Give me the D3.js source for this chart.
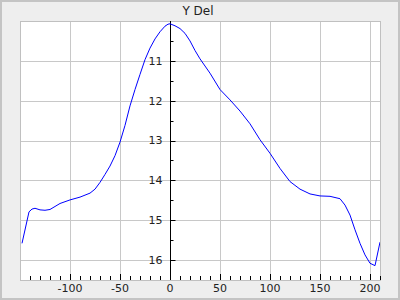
<!DOCTYPE html>
<html>
<head>
<meta charset="utf-8">
<script src="https://cdn.jsdelivr.net/npm/d3@7/dist/d3.min.js"></script>
<style>
  html, body { margin: 0; padding: 0; background: #eeeeee; }
  svg { display: block; }
</style>
</head>
<body>
<div id="chart"></div>
<script>
// values
const xs = [-148, -141, -138, -135, -130, -125, -120, -110, -100, -90, -80, -75, -70, -65, -60, -55, -50, -45, -40, -35, -30, -25, -20, -15, -10, -5, -2, 0, 5, 10, 15, 20, 25, 30, 35, 40, 50, 60, 70, 80, 90, 100, 110, 120, 130, 140, 150, 160, 170, 175, 180, 185, 190, 195, 200, 205, 210]
const ys = [15.58, 14.79, 14.72, 14.70, 14.74, 14.75, 14.73, 14.58, 14.49, 14.42, 14.32, 14.22, 14.05, 13.85, 13.64, 13.38, 13.04, 12.62, 12.13, 11.72, 11.34, 10.97, 10.68, 10.45, 10.27, 10.13, 10.08, 10.07, 10.12, 10.19, 10.31, 10.50, 10.74, 10.95, 11.13, 11.31, 11.72, 11.98, 12.26, 12.58, 12.98, 13.32, 13.70, 14.03, 14.22, 14.34, 14.39, 14.40, 14.46, 14.62, 14.87, 15.24, 15.58, 15.87, 16.08, 16.14, 15.55]
const xTicks = [-100, -50, 0, 50, 100, 150, 200]
const yTicks = [11, 12, 13, 14, 15, 16]
const title = 'Y Del'

const width = 400, height = 300
const plot = { left: 20, top: 21, right: 380, bottom: 280 }

const svg = d3.select('#chart')
   .append('svg')
   .attr('width', width)
   .attr('height', height)
   .style('font-family', '"DejaVu Sans", sans-serif')

svg.append('rect')
   .attr('x', 1).attr('y', 1)
   .attr('width', width - 2).attr('height', height - 2)
   .attr('fill', '#eeeeee')
   .attr('stroke', '#c4c4c4')
   .attr('stroke-width', 2)

const x = d3.scaleLinear().domain([-150, 210]).range([plot.left, plot.right])
const y = d3.scaleLinear().domain([10, 16.5]).range([plot.top, plot.bottom])

svg.append('rect')
   .attr('x', plot.left).attr('y', plot.top)
   .attr('width', plot.right - plot.left).attr('height', plot.bottom - plot.top)
   .attr('fill', '#ffffff')

// grid
svg.append('g')
   .selectAll('line')
   .data(xTicks)
   .enter()
   .append('line')
   .attr('x1', d => Math.round(x(d)) + 0.5).attr('x2', d => Math.round(x(d)) + 0.5)
   .attr('y1', plot.top).attr('y2', plot.bottom)
   .attr('stroke', '#c8c8c8')
svg.append('g')
   .selectAll('line')
   .data(yTicks)
   .enter()
   .append('line')
   .attr('y1', d => Math.round(y(d)) + 0.5).attr('y2', d => Math.round(y(d)) + 0.5)
   .attr('x1', plot.left).attr('x2', plot.right)
   .attr('stroke', '#c8c8c8')

svg.append('rect')
   .attr('x', plot.left + 0.5).attr('y', plot.top + 0.5)
   .attr('width', plot.right - plot.left).attr('height', plot.bottom - plot.top)
   .attr('fill', 'none')
   .attr('stroke', '#c0c0c0')

// x axis ticks inside the bottom edge
const xMinor = d3.range(-140, 211, 10)
svg.append('g')
   .selectAll('line')
   .data(xMinor)
   .enter()
   .append('line')
   .attr('x1', d => Math.round(x(d)) + 0.5).attr('x2', d => Math.round(x(d)) + 0.5)
   .attr('y1', plot.bottom)
   .attr('y2', d => plot.bottom - (d % 50 === 0 ? 6 : 4))
   .attr('stroke', '#000')
svg.append('g')
   .selectAll('text')
   .data(xTicks)
   .enter()
   .append('text')
   .attr('x', d => x(d))
   .attr('y', 292)
   .attr('text-anchor', 'middle')
   .attr('font-size', 11)
   .attr('fill', '#222')
   .text(d => d)

// y axis at x = 0
const x0 = Math.round(x(0)) + 0.5
svg.append('line')
   .attr('x1', x0).attr('x2', x0)
   .attr('y1', plot.top).attr('y2', plot.bottom)
   .attr('stroke', '#000')
const yMinor = d3.range(10.5, 16.01, 0.5)
svg.append('g')
   .selectAll('line')
   .data(yMinor)
   .enter()
   .append('line')
   .attr('y1', d => Math.round(y(d)) + 0.5).attr('y2', d => Math.round(y(d)) + 0.5)
   .attr('x1', x0)
   .attr('x2', d => x0 + (d % 1 === 0 ? 5 : 3))
   .attr('stroke', '#000')
svg.append('g')
   .selectAll('text')
   .data(yTicks)
   .enter()
   .append('text')
   .attr('x', x0 - 8)
   .attr('y', d => y(d))
   .attr('dy', '0.36em')
   .attr('text-anchor', 'end')
   .attr('font-size', 11)
   .attr('fill', '#222')
   .text(d => d)

// curve
const pts = xs.map((d, i) => [d, ys[i]])
svg.append('defs').append('clipPath').attr('id', 'clip')
   .append('rect')
   .attr('x', plot.left).attr('y', plot.top)
   .attr('width', plot.right - plot.left).attr('height', plot.bottom - plot.top)
svg.append('path')
   .datum(pts)
   .attr('clip-path', 'url(#clip)')
   .attr('fill', 'none')
   .attr('stroke', '#0000ff')
   .attr('stroke-width', 1)
   .attr('d', d3.line().x(d => x(d[0])).y(d => y(d[1])))

svg.append('text')
   .attr('x', 198)
   .attr('y', 15)
   .attr('text-anchor', 'middle')
   .attr('font-size', 12)
   .attr('fill', '#222')
   .text(title)
</script>
</body>
</html>
